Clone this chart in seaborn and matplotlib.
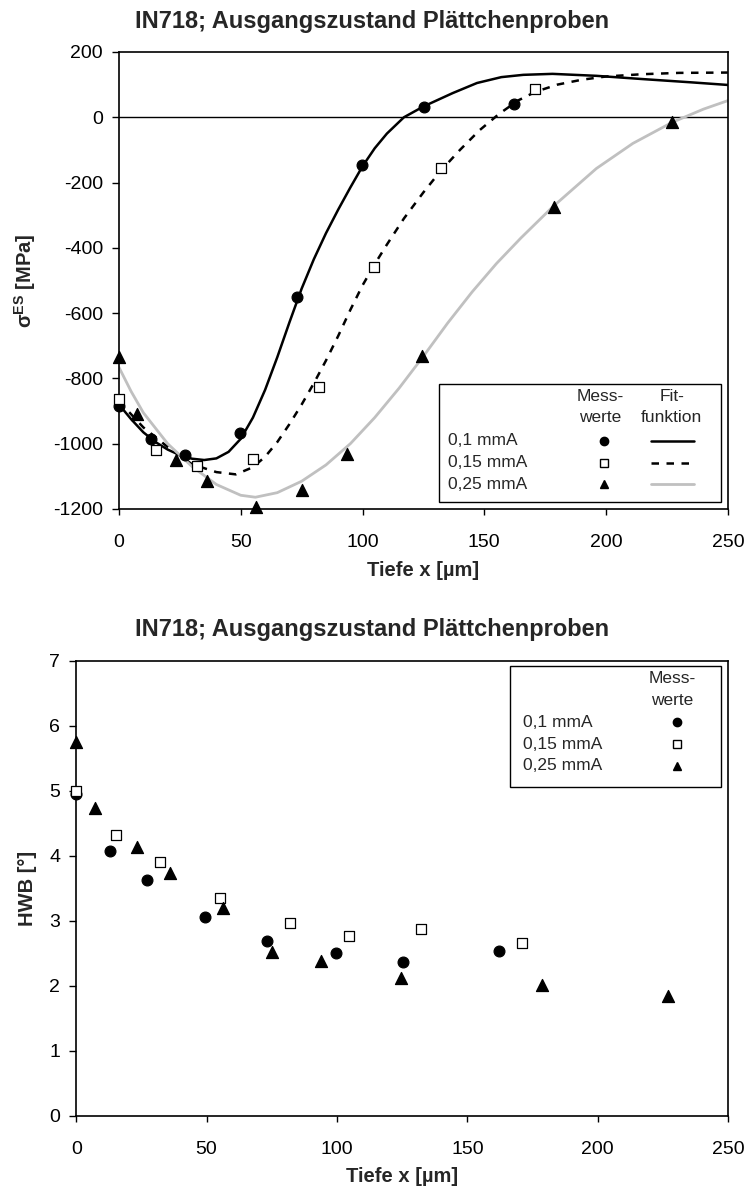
import matplotlib
matplotlib.use("Agg")
import matplotlib.pyplot as plt
import seaborn as sns
from matplotlib.patches import Rectangle

# depth positions of the measurements [µm]
depth_01 = [0, 13, 27, 49.5, 73, 99.7, 125.4, 162.2]
depth_015 = [0, 15.3, 32, 55.2, 82, 104.8, 132.4, 170.8]
depth_025 = [0, 7.3, 23.3, 36, 56.2, 75, 93.7, 124.6, 178.6, 227.1]

# residual stress [MPa]
es_01 = [-885, -985, -1036, -966, -551, -145, 33, 42]
es_015 = [-862, -1020, -1069, -1046, -826, -459, -154, 86]
es_025 = [-735, -910, -1051, -1115, -1195, -1142, -1031, -730, -275, -16]

# half width (HWB) [°]
hwb_01 = [4.95, 4.07, 3.62, 3.06, 2.69, 2.51, 2.36, 2.54]
hwb_015 = [5.0, 4.32, 3.90, 3.35, 2.96, 2.77, 2.87, 2.66]
hwb_025 = [5.75, 4.74, 4.14, 3.73, 3.19, 2.52, 2.38, 2.12, 2.01, 1.85]

# fit functions
fit_x_01 = [0, 5, 10, 15, 20, 25, 30, 35, 40, 45, 50, 55, 60, 65, 70, 75, 80, 85, 90, 95,
            100, 105, 110, 117, 125, 137, 147, 157, 166, 178, 196, 215, 235, 250]
fit_y_01 = [-880, -925, -965, -995, -1018, -1035, -1046, -1050, -1045, -1025, -985, -920,
            -835, -735, -628, -525, -435, -355, -283, -215, -150, -95, -50, 0, 33, 74, 105,
            123, 130, 133, 127, 117, 107, 99]
fit_x_015 = [0, 10, 20, 30, 40, 48, 55, 60, 65, 70, 75, 80, 85, 90, 95, 100, 105, 110, 117,
             125, 132, 140, 148, 156, 164, 171, 180, 190, 200, 215, 230, 250]
fit_y_015 = [-870, -950, -1010, -1063, -1087, -1094, -1072, -1040, -995, -940, -880, -815,
             -745, -670, -590, -515, -450, -390, -310, -230, -165, -100, -40, 10, 52, 78,
             100, 115, 125, 132, 136, 137]
fit_x_025 = [0, 5, 10, 20, 30, 40, 50, 56, 65, 75, 85, 95, 105, 115, 125, 135, 145, 155,
             165, 178, 196, 211, 227, 240, 250]
fit_y_025 = [-766, -840, -905, -1000, -1070, -1125, -1158, -1164, -1150, -1115, -1065,
             -1000, -920, -830, -732, -630, -535, -448, -370, -275, -157, -80, -16, 25, 51]

labels = ["0,1 mmA", "0,15 mmA", "0,25 mmA"]
title = "IN718; Ausgangszustand Plättchenproben"

sns.set_style("ticks")
plt.rcParams['font.family'] = ['Liberation Sans', 'DejaVu Sans']
plt.rcParams['mathtext.fontset'] = 'custom'
plt.rcParams['mathtext.rm'] = 'Liberation Sans'
plt.rcParams['mathtext.bf'] = 'Liberation Sans:bold'
plt.rcParams['axes.unicode_minus'] = False
plt.rcParams['axes.edgecolor'] = 'black'
plt.rcParams['axes.linewidth'] = 1.2

fig = plt.figure(figsize=(7.45, 11.87), dpi=100)
ax1 = fig.add_axes([0.1597, 0.5712, 0.8173, 0.3850])
ax2 = fig.add_axes([0.1023, 0.0600, 0.8750, 0.3834])

styles = [
    dict(marker='o', color='black', s=60),
    dict(marker='s', color='white', s=55),
    dict(marker='^', color='black', s=75),
]
fit_styles = [
    dict(color='black', linewidth=1.8, linestyle='-'),
    dict(color='black', linewidth=1.8, linestyle=(0, (3, 3))),
    dict(color='#c0c0c0', linewidth=2.0, linestyle='-'),
]

# titles are centred on the figure, not on the axes
fig.text(0.5, 0.9815, title, ha='center', va='center', fontsize=17, fontweight='bold')
fig.text(0.5, 0.4693, title, ha='center', va='center', fontsize=17, fontweight='bold')

# ---- top: residual stress ----
ax1.axhline(0, color='black', linewidth=1.0, zorder=1)
for fx, fy, st in zip([fit_x_01, fit_x_015, fit_x_025], [fit_y_01, fit_y_015, fit_y_025], fit_styles):
    sns.lineplot(x=fx, y=fy, ax=ax1, zorder=2, **st)
for dx, dy, st in zip([depth_01, depth_015, depth_025], [es_01, es_015, es_025], styles):
    sns.scatterplot(x=dx, y=dy, ax=ax1, edgecolor='black', linewidth=0.9, zorder=3,
                    clip_on=False, **st)

ax1.set_xlim(0, 250)
ax1.set_ylim(-1200, 200)
ax1.set_xticks(range(0, 251, 50))
ax1.set_yticks(range(-1200, 201, 200))
ax1.set_xlabel("Tiefe x [µm]", fontsize=14.5, fontweight='bold')
ax1.set_ylabel("σ$^{\\mathbf{ES}}$ [MPa]", fontsize=14.5, fontweight='bold')
ax1.xaxis.set_label_coords(0.5, -0.113)
ax1.yaxis.set_label_coords(-0.133, 0.5)

# legend table (top)
ax1.add_patch(Rectangle((0.526, 0.016), 0.463, 0.257, transform=ax1.transAxes,
                        facecolor='white', edgecolor='black', linewidth=1.0, zorder=5))
ax1.text(0.791, 0.2457, "Mess-", transform=ax1.transAxes, ha='center', va='center', fontsize=12.5, zorder=6)
ax1.text(0.791, 0.1998, "werte", transform=ax1.transAxes, ha='center', va='center', fontsize=12.5, zorder=6)
ax1.text(0.908, 0.2457, "Fit-", transform=ax1.transAxes, ha='center', va='center', fontsize=12.5, zorder=6)
ax1.text(0.908, 0.1998, "funktion", transform=ax1.transAxes, ha='center', va='center', fontsize=12.5, zorder=6)
for i, (lab, st, fst) in enumerate(zip(labels, styles, fit_styles)):
    yy = [0.1488, 0.1013, 0.054][i]
    ax1.text(0.540, yy, lab, transform=ax1.transAxes, ha='left', va='center', fontsize=12.5, zorder=6)
    ax1.plot([0.796], [yy], transform=ax1.transAxes, marker=st['marker'], markersize=6,
             markerfacecolor=st['color'], markeredgecolor='black', linestyle='none', zorder=6)
    ax1.plot([0.873, 0.945], [yy, yy], transform=ax1.transAxes, zorder=6, **fst)

# ---- bottom: HWB ----
for dx, dy, st in zip([depth_01, depth_015, depth_025], [hwb_01, hwb_015, hwb_025], styles):
    sns.scatterplot(x=dx, y=dy, ax=ax2, edgecolor='black', linewidth=0.9, zorder=3,
                    clip_on=False, **st)

ax2.set_xlim(0, 250)
ax2.set_ylim(0, 7)
ax2.set_xticks(range(0, 251, 50))
ax2.set_yticks(range(0, 8))
ax2.set_xlabel("Tiefe x [µm]", fontsize=14.5, fontweight='bold')
ax2.set_ylabel("HWB [°]", fontsize=14.5, fontweight='bold')
ax2.xaxis.set_label_coords(0.5, -0.113)
ax2.yaxis.set_label_coords(-0.060, 0.5)

# legend table (bottom)
ax2.add_patch(Rectangle((0.666, 0.7218), 0.323, 0.2666, transform=ax2.transAxes,
                        facecolor='white', edgecolor='black', linewidth=1.0, zorder=5))
ax2.text(0.9144, 0.9604, "Mess-", transform=ax2.transAxes, ha='center', va='center', fontsize=12.5, zorder=6)
ax2.text(0.9144, 0.9136, "werte", transform=ax2.transAxes, ha='center', va='center', fontsize=12.5, zorder=6)
for i, (lab, st) in enumerate(zip(labels, styles)):
    yy = [0.8646, 0.8169, 0.7692][i]
    ax2.text(0.686, yy, lab, transform=ax2.transAxes, ha='left', va='center', fontsize=12.5, zorder=6)
    ax2.plot([0.9218], [yy], transform=ax2.transAxes, marker=st['marker'], markersize=6,
             markerfacecolor=st['color'], markeredgecolor='black', linestyle='none', zorder=6)

for ax in (ax1, ax2):
    ax.tick_params(axis='both', direction='out', width=1, labelsize=14, colors='black')
    ax.tick_params(axis='x', length=4, pad=14)
    ax.tick_params(axis='y', length=5, pad=6.5)
    for sp in ax.spines.values():
        sp.set_visible(True)
        sp.set_color('black')
    if ax.get_legend() is not None:
        ax.get_legend().remove()

fig.savefig("out.png", dpi=100)
